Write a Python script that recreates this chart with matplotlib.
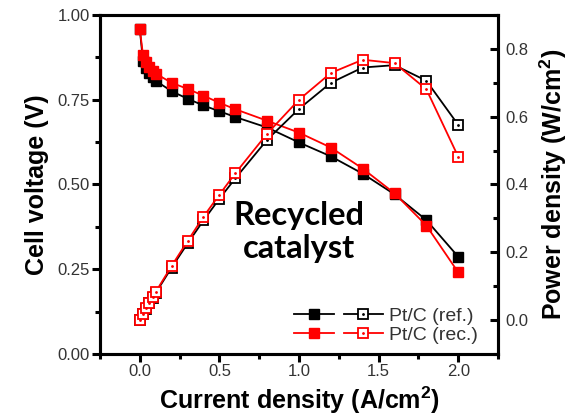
import matplotlib
matplotlib.use("Agg")
import matplotlib.pyplot as plt
from matplotlib.legend_handler import HandlerTuple
from matplotlib.ticker import MultipleLocator, FormatStrFormatter

# current density (A/cm2)
current = [0.0, 0.02, 0.04, 0.06, 0.08, 0.1, 0.2, 0.3, 0.4, 0.5, 0.6, 0.8,
           1.0, 1.2, 1.4, 1.6, 1.8, 2.0]

# cell voltage (V)
volt_ref = [0.958, 0.865, 0.845, 0.830, 0.818, 0.806, 0.775, 0.753, 0.733,
            0.716, 0.699, 0.668, 0.624, 0.583, 0.532, 0.471, 0.395, 0.287]
volt_rec = [0.959, 0.882, 0.860, 0.846, 0.836, 0.827, 0.800, 0.782, 0.762,
            0.741, 0.722, 0.688, 0.653, 0.609, 0.547, 0.474, 0.379, 0.241]

# power density (W/cm2)
power_ref = [0.0, 0.017, 0.034, 0.050, 0.065, 0.080, 0.155, 0.226, 0.294,
             0.358, 0.418, 0.532, 0.623, 0.700, 0.745, 0.752, 0.706, 0.576]
power_rec = [0.0, 0.018, 0.035, 0.051, 0.067, 0.083, 0.160, 0.233, 0.305,
             0.370, 0.433, 0.550, 0.650, 0.729, 0.768, 0.758, 0.681, 0.482]

RED = "#ff0000"
plt.rcParams["font.family"] = ["Liberation Sans", "DejaVu Sans"]
plt.rcParams["mathtext.fontset"] = "custom"
plt.rcParams["mathtext.rm"] = "Liberation Sans"
plt.rcParams["mathtext.bf"] = "Liberation Sans:bold"

fig = plt.figure(figsize=(5.74, 4.16), dpi=100)
ax = fig.add_axes([0.1742, 0.149, 0.6934, 0.815])
ax2 = ax.twinx()

# voltage curves (filled squares)
l1, = ax.plot(current, volt_ref, "-s", color="black", ms=7, lw=1.3, zorder=3)
l2, = ax.plot(current, volt_rec, "-s", color=RED, ms=7, lw=1.3, zorder=4)

# power curves (open squares with a dot)
p1, = ax2.plot(current, power_ref, "-s", color="black", ms=6.5, lw=1.3,
               mfc="white", mew=1.3, zorder=3)
d1, = ax2.plot(current, power_ref, ".", color="black", ms=2, zorder=3.5)
p2, = ax2.plot(current, power_rec, "-s", color=RED, ms=6.5, lw=1.3,
               mfc="white", mew=1.3, zorder=4)
d2, = ax2.plot(current, power_rec, ".", color=RED, ms=2, zorder=4.5)

ax.set_xlim(-0.25, 2.25)
ax.set_ylim(0, 1.0)
ax2.set_ylim(-0.1, 0.9)

ax.xaxis.set_major_locator(MultipleLocator(0.5))
ax.xaxis.set_minor_locator(MultipleLocator(0.25))
ax.yaxis.set_major_locator(MultipleLocator(0.25))
ax.yaxis.set_minor_locator(MultipleLocator(0.125))
ax2.yaxis.set_major_locator(MultipleLocator(0.2))
ax2.yaxis.set_minor_locator(MultipleLocator(0.1))
ax.xaxis.set_major_formatter(FormatStrFormatter("%.1f"))
ax.yaxis.set_major_formatter(FormatStrFormatter("%.2f"))
ax2.yaxis.set_major_formatter(FormatStrFormatter("%.1f"))

for a in (ax, ax2):
    for s in a.spines.values():
        s.set_linewidth(2.2)

ax.tick_params(which="major", direction="out", length=5.5, width=2.2,
               labelsize=12, labelcolor="#333333", pad=2)
ax.tick_params(which="minor", direction="out", length=3.5, width=2.2)
ax2.tick_params(which="major", direction="in", length=5.5, width=2.2,
                labelsize=12, labelcolor="#333333", pad=5)
ax2.tick_params(which="minor", direction="in", length=3.5, width=2.2)

ax.set_xlabel(r"Current density (A/cm$\mathbf{^2}$)", fontsize=18,
              fontweight="bold", labelpad=4)
ax.set_ylabel("Cell voltage (V)", fontsize=18, fontweight="bold", labelpad=6)
ax2.set_ylabel(r"Power density (W/cm$\mathbf{^2}$)", fontsize=18,
               fontweight="bold", labelpad=7)

ax.text(1.0, 0.36, "Recycled\ncatalyst", fontsize=23.5, fontweight="bold",
        family="Lato", ha="center", va="center", linespacing=1.2, zorder=6)

ref_open = (p1, d1)
rec_open = (p2, d2)
leg = ax.legend([(l1, ref_open), (l2, rec_open)],
                ["Pt/C (ref.)", "Pt/C (rec.)"],
                handler_map={tuple: HandlerTuple(ndivide=None, pad=0.5),
                             ref_open: HandlerTuple(ndivide=1),
                             rec_open: HandlerTuple(ndivide=1)},
                loc="lower right", bbox_to_anchor=(0.95, 0.03),
                frameon=False, fontsize=14, handlelength=4.6,
                handletextpad=0.3, labelspacing=0.05, borderpad=0,
                borderaxespad=0)
for t in leg.get_texts():
    t.set_color("#333333")

fig.savefig("out.png", dpi=100)
